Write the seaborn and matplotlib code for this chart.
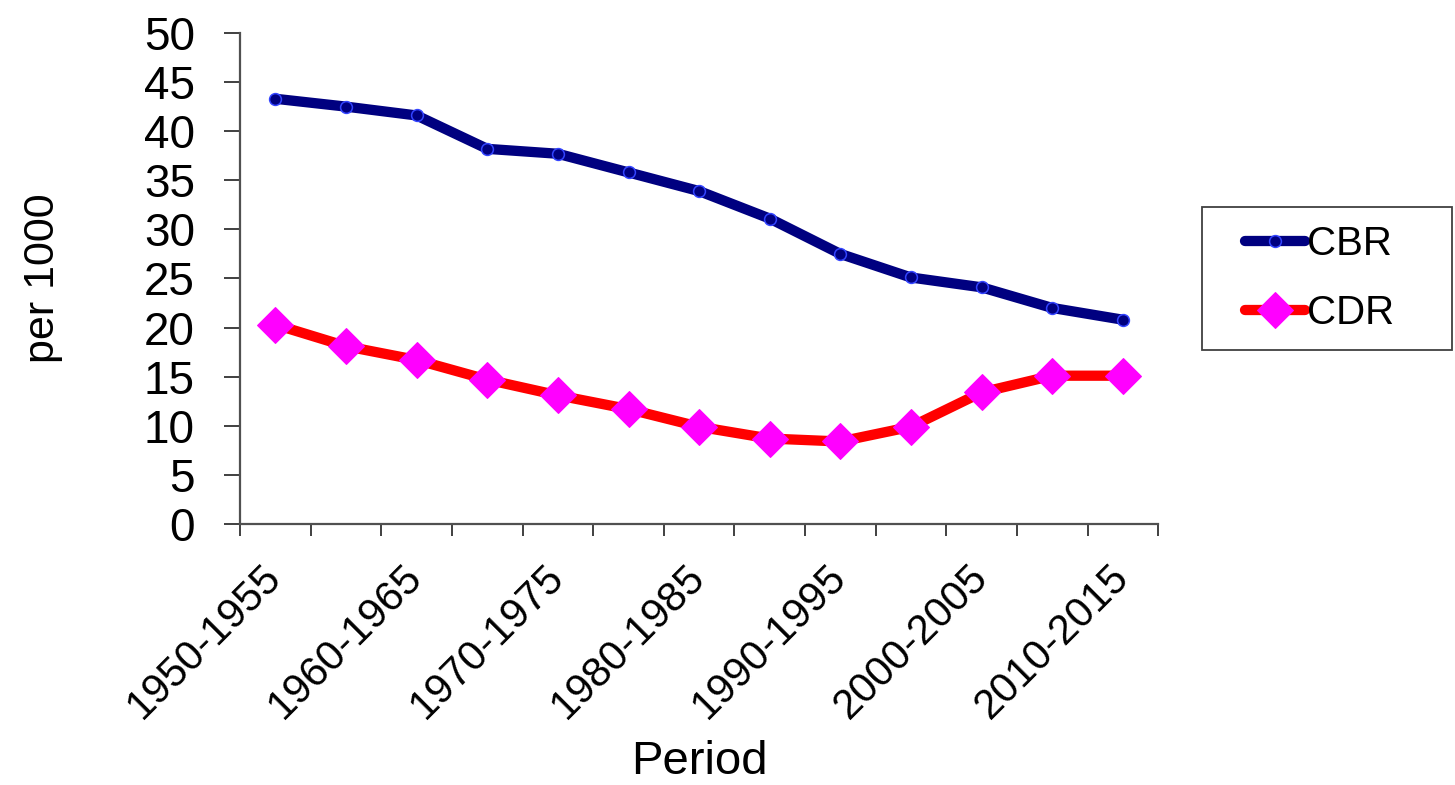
import pandas as pd
import matplotlib
matplotlib.use('Agg')
import matplotlib.pyplot as plt
import matplotlib.patches as mpatches
import seaborn as sns

# data (per 1000, five-year periods)
periods = ['1950-1955', '1955-1960', '1960-1965', '1965-1970', '1970-1975',
           '1975-1980', '1980-1985', '1985-1990', '1990-1995', '1995-2000',
           '2000-2005', '2005-2010', '2010-2015']
cbr = [43.3, 42.5, 41.6, 38.2, 37.7, 35.8, 33.9, 31.1, 27.5, 25.1, 24.1, 22.0, 20.8]
cdr = [20.3, 18.1, 16.7, 14.7, 13.1, 11.7, 9.9, 8.7, 8.4, 9.9, 13.4, 15.1, 15.1]

sns.set_style('white')
plt.rcParams['font.family'] = ['Liberation Sans', 'DejaVu Sans']
plt.rcParams['text.color'] = 'black'
plt.rcParams['axes.labelcolor'] = 'black'

df = pd.DataFrame({'pos': range(len(periods)), 'Period': periods, 'CBR': cbr, 'CDR': cdr})

fig = plt.figure(figsize=(14.55, 7.85), dpi=100)
ax = fig.add_axes([0.165, 0.3325, 0.631, 0.6255])

sns.lineplot(data=df, x='pos', y='CBR', ax=ax, color='#000080', linewidth=7.4,
             marker='o', markersize=8.5, markerfacecolor='#000080',
             markeredgecolor='#3344ff', markeredgewidth=1.1, label='CBR')
sns.lineplot(data=df, x='pos', y='CDR', ax=ax, color='#ff0000', linewidth=7.4,
             marker='D', markersize=18, markerfacecolor='#ff00ff',
             markeredgecolor='#ff00ff', label='CDR')

ax.set_xlim(-0.5, len(periods) - 0.5)
ax.set_ylim(0, 50)
ax.set_yticks(range(0, 51, 5))
ax.tick_params(axis='y', labelsize=33, length=11.5, width=1.4, color='#404040',
               labelcolor='black', pad=21, left=True)

# tick marks between categories, labels on every other category
ax.set_xticks([i - 0.5 for i in range(len(periods) + 1)])
ax.set_xticklabels([])
ax.set_xticks(range(0, len(periods), 2), minor=True)
ax.set_xticklabels(periods[::2], minor=True, rotation=45, ha='right', va='center',
                   rotation_mode='anchor', fontsize=30)
ax.tick_params(axis='x', which='major', length=8.6, width=1.4, color='#404040', bottom=True)
ax.tick_params(axis='x', which='minor', length=0, pad=34, labelcolor='black')

for side in ['top', 'right']:
    ax.spines[side].set_visible(False)
for side in ['left', 'bottom']:
    ax.spines[side].set_color('#505050')
    ax.spines[side].set_linewidth(1.6)

ax.set_xlabel('Period', fontsize=34, labelpad=10)
ax.set_ylabel('per 1000', fontsize=31, labelpad=58)

# legend frame drawn as a box on the figure, entries placed inside it
fig.patches.append(mpatches.Rectangle((0.8261, 0.5541), 0.1718, 0.1822, transform=fig.transFigure,
                                      fill=False, edgecolor='#404040', linewidth=1.3))
ax.legend(loc='center left', bbox_to_anchor=(0.8557, 0.645), bbox_transform=fig.transFigure,
          fontsize=29, frameon=False, borderpad=0, borderaxespad=0, handlelength=1.5,
          handletextpad=0.05, labelspacing=0.78)

fig.savefig('out.png', dpi=100)
